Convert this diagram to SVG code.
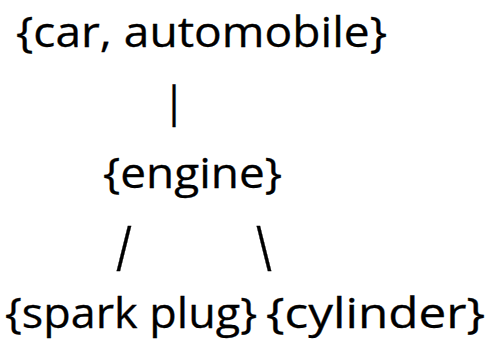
<svg xmlns="http://www.w3.org/2000/svg" width="489" height="348" viewBox="0 0 489 348">
  <style>
    .t { font-family: "Open Sans", "Noto Sans", "Liberation Sans", sans-serif; font-size: 42px; fill: #000; stroke: #000; stroke-width: 0.3px; }
    .c { text-anchor: middle; }
  </style>
  <rect width="489" height="348" fill="#fff"/>
  <!-- synset nodes -->
  <g id="node-car">
    <text class="t" x="16" y="47" textLength="371" lengthAdjust="spacingAndGlyphs">{car, automobile}</text>
  </g>
  <g id="node-engine">
    <text class="t" x="103" y="188" textLength="179" lengthAdjust="spacingAndGlyphs">{engine}</text>
  </g>
  <g id="node-spark-plug">
    <text class="t" x="5" y="328" textLength="252" lengthAdjust="spacingAndGlyphs">{spark plug}</text>
  </g>
  <g id="node-cylinder">
    <text class="t" x="266" y="328" textLength="219" lengthAdjust="spacingAndGlyphs">{cylinder}</text>
  </g>
  <!-- part-of links drawn as plain characters -->
  <g id="connectors">
    <text class="t c" x="174" y="117" font-size="46">|</text>
    <text class="t c" transform="translate(124 271) scale(1 1.5)" x="0" y="0">/</text>
    <text class="t c" transform="translate(264 271) scale(1 1.5)" x="0" y="0">\</text>
  </g>
</svg>
